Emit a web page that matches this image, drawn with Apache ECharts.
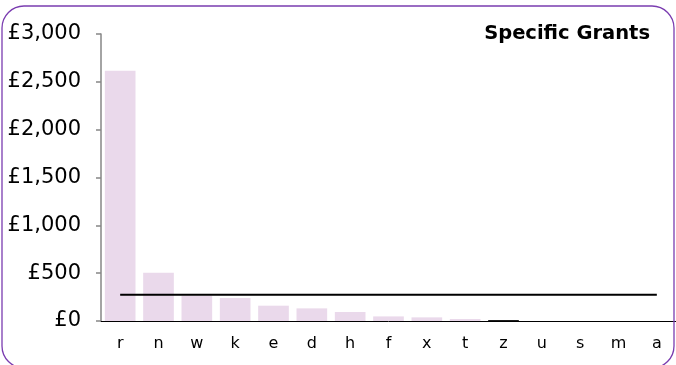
<!DOCTYPE html>
<html>
<head>
<meta charset="utf-8">
<script src="https://cdn.jsdelivr.net/npm/echarts@6/dist/echarts.min.js"></script>
<style>
  html, body { margin: 0; padding: 0; background: #ffffff; }
  #chart { width: 676px; height: 365px; }
</style>
</head>
<body>
<div id="chart"></div>
<script>
// Authorities, ordered by specific grant amount
const categories = ['r', 'n', 'w', 'k', 'e', 'd', 'h', 'f', 'x', 't', 'z', 'u', 's', 'm', 'a'];
// Specific grants (£)
const grants = [2616, 505, 264, 240, 160, 132, 94, 48, 38, 21, 10, 0, 0, 0, 0];
// Average across all authorities (£)
const averageGrant = 274;
// Highlighted authority
const highlighted = 'z';
// Value axis ticks
const yMin = 0, yMax = 3000, yStep = 500;

const FONT = '"DejaVu Sans", Verdana, sans-serif';

const chart = echarts.init(document.getElementById('chart'), null, { renderer: 'canvas' });

const barData = grants.map((v, i) => ({
  value: v,
  itemStyle: { color: categories[i] === highlighted ? '#111111' : '#ead9eb' }
}));

chart.setOption({
  animation: false,
  backgroundColor: '#ffffff',
  graphic: [{
    type: 'rect',
    shape: { x: 2, y: 6, width: 672, height: 362, r: 22 },
    style: { fill: 'none', stroke: '#7a3cb0', lineWidth: 1.3 },
    silent: true,
    z: 10
  }],
  title: {
    text: 'Specific Grants',
    right: 26,
    top: 24,
    padding: 0,
    textStyle: { fontFamily: FONT, fontSize: 19.5, fontWeight: 'bold', color: '#000000' }
  },
  grid: { left: 101, right: -3, top: 34, bottom: 44 },
  xAxis: {
    type: 'category',
    data: categories,
    axisLine: { lineStyle: { color: '#000000', width: 1 } },
    axisTick: { show: false },
    axisLabel: { fontFamily: FONT, fontSize: 16, color: '#000000', margin: 15 }
  },
  yAxis: {
    type: 'value',
    min: yMin,
    max: yMax,
    interval: yStep,
    splitLine: { show: false },
    axisLine: { show: true, lineStyle: { color: '#868686', width: 1.5 } },
    axisTick: { show: true, length: 5, lineStyle: { color: '#868686', width: 1.5 } },
    axisLabel: {
      fontFamily: FONT, fontSize: 21, color: '#000000', margin: 20,
      formatter: v => '£' + v.toLocaleString('en-GB')
    }
  },
  series: [
    {
      type: 'bar',
      data: barData,
      barCategoryGap: '20%',
      z: 1
    },
    {
      type: 'line',
      data: categories.map(() => averageGrant),
      symbol: 'none',
      lineStyle: { color: '#000000', width: 2 },
      z: 3
    }
  ]
});
</script>
</body>
</html>
